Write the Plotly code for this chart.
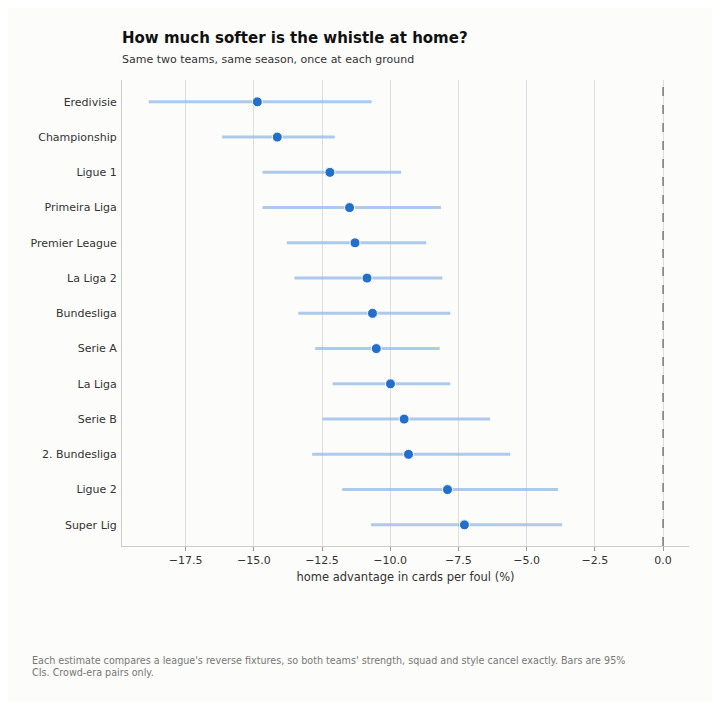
import plotly.graph_objects as go

# league estimates, top to bottom
leagues = [
    "Eredivisie", "Championship", "Ligue 1", "Primeira Liga", "Premier League",
    "La Liga 2", "Bundesliga", "Serie A", "La Liga", "Serie B",
    "2. Bundesliga", "Ligue 2", "Super Lig",
]
estimate = [-14.87, -14.14, -12.21, -11.49, -11.29, -10.85, -10.65,
            -10.51, -9.99, -9.49, -9.33, -7.90, -7.28]
ci_low = [-18.85, -16.16, -14.68, -14.68, -13.79, -13.51, -13.37,
          -12.75, -12.11, -12.48, -12.86, -11.76, -10.70]
ci_high = [-10.68, -12.03, -9.60, -8.14, -8.68, -8.09, -7.80,
           -8.19, -7.80, -6.34, -5.60, -3.85, -3.70]

tick_vals = [-17.5, -15.0, -12.5, -10.0, -7.5, -5.0, -2.5, 0.0]
tick_text = ["\u221217.5", "\u221215.0", "\u221212.5", "\u221210.0",
             "\u22127.5", "\u22125.0", "\u22122.5", "0.0"]

bg = "#fcfcfa"
font = "DejaVu Sans"

# page has an 8px body margin, so the figure is a bit smaller than the window
W, H = 704, 694
plot_w, plot_h = 567, 466

fig = go.Figure()

fig.add_trace(go.Scatter(
    x=estimate,
    y=leagues,
    mode="markers",
    marker=dict(size=10, color="#2270cc", line=dict(color="white", width=1)),
    error_x=dict(
        type="data",
        symmetric=False,
        array=[h - e for h, e in zip(ci_high, estimate)],
        arrayminus=[e - l for e, l in zip(estimate, ci_low)],
        color="rgba(140,180,230,0.7)",
        thickness=3,
        width=0,
    ),
    showlegend=False,
))

fig.add_vline(x=0, line=dict(color="#777777", width=1.5, dash="dash"))

fig.update_layout(
    width=W,
    height=H,
    paper_bgcolor=bg,
    plot_bgcolor=bg,
    font=dict(family=font, size=11, color="#333333"),
    margin=dict(l=114, r=23, t=72, b=156),
    title=dict(
        text="<b>How much softer is the whistle at home?</b>"
             "<br><span style='font-size:11px;color:#333333'>"
             "Same two teams, same season, once at each ground</span>",
        x=114 / W, xanchor="left",
        y=1 - 35 / H, yanchor="top",
        font=dict(family=font, size=15, color="#111111"),
    ),
    xaxis=dict(
        range=[-19.83, 0.95],
        tickvals=tick_vals,
        ticktext=tick_text,
        showgrid=True,
        gridcolor="#dedede",
        gridwidth=1,
        zeroline=False,
        showline=True,
        linecolor="#cccccc",
        ticks="outside",
        ticklen=4,
        tickcolor="#999999",
        title=dict(text="home advantage in cards per foul (%)",
                   font=dict(size=11.5, color="#333333"), standoff=6),
    ),
    yaxis=dict(
        type="category",
        categoryorder="array",
        categoryarray=leagues,
        range=[12.6, -0.62],
        showgrid=False,
        zeroline=False,
        showline=True,
        linecolor="#cccccc",
        ticks="",
        ticklabelstandoff=2,
    ),
    annotations=[dict(
        text="Each estimate compares a league's reverse fixtures, so both teams' strength, squad and style cancel exactly. Bars are 95%"
             "<br>CIs. Crowd-era pairs only.",
        xref="paper", yref="paper",
        x=-92 / plot_w, y=-107 / plot_h,
        xanchor="left", yanchor="top", align="left", showarrow=False,
        font=dict(family=font, size=9.6, color="#777777"),
    )],
)

fig.write_html("out.html")
